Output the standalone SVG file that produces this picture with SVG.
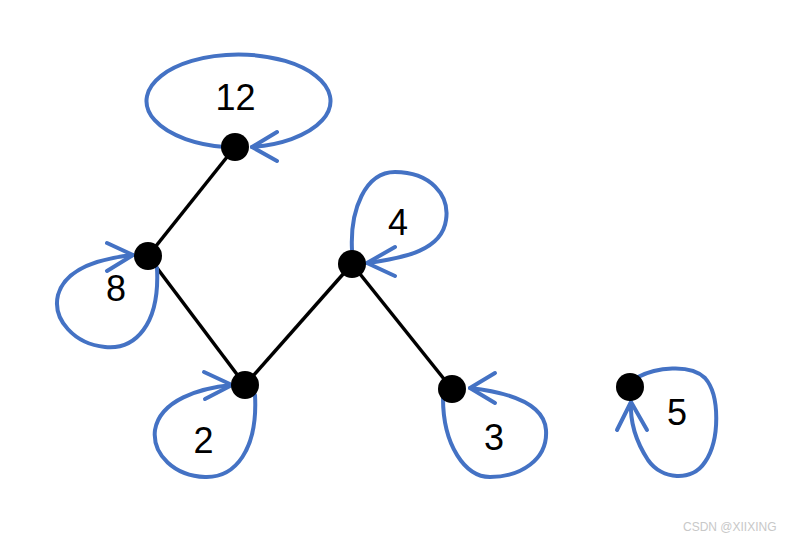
<svg xmlns="http://www.w3.org/2000/svg" width="788" height="540" viewBox="0 0 788 540">
<style>
.edge{stroke:#000;stroke-width:3.5;fill:none}
.loop{stroke:#4472C4;stroke-width:4;fill:none;stroke-linecap:round;stroke-linejoin:round}
.node{fill:#000}
.lbl{font-family:"Liberation Sans",Arial,sans-serif;font-size:36px;fill:#000;text-anchor:middle}
.wm{font-family:"Liberation Sans",Arial,sans-serif;font-size:12px;fill:#c8c8c8}
</style>
<rect width="788" height="540" fill="#fff"/>
<g id="connectors">
<line class="edge" x1="235" y1="147" x2="148" y2="256"/>
<line class="edge" x1="148" y1="256" x2="245" y2="385"/>
<line class="edge" x1="245" y1="385" x2="352" y2="264"/>
<line class="edge" x1="352" y1="264" x2="452" y2="389"/>
</g>
<g id="n12">
<path class="loop" d="M225 147 A92 46.5 0 1 1 252 147"/>
<path class="loop" d="M277 132 L252 147 L277 161"/>
<circle class="node" cx="235" cy="147" r="14"/>
<text class="lbl" x="235.5" y="110">12</text>
</g>
<g id="n8">
<path class="loop" d="M157 268 C160 325 135 350 105 347 C75 344 52 320 58 295 C66 266 105 258 133 255"/>
<path class="loop" d="M107 243 L133 255 L107 271"/>
<circle class="node" cx="148" cy="256" r="14"/>
<text class="lbl" x="116" y="301">8</text>
</g>
<g id="n2">
<path class="loop" d="M255 395 C258 450 235 478 205 477 C175 476 152 455 155 430 C160 400 200 388 232 385"/>
<path class="loop" d="M204 372 L232 385 L205 399"/>
<circle class="node" cx="245" cy="385" r="14"/>
<text class="lbl" x="203.5" y="453">2</text>
</g>
<g id="n4">
<path class="loop" d="M352 250 C350 210 365 172 395 172 C430 172 450 195 446 220 C442 250 405 258 367 263"/>
<path class="loop" d="M395 247 L367 263 L395 276"/>
<circle class="node" cx="352" cy="264" r="14"/>
<text class="lbl" x="398" y="235">4</text>
</g>
<g id="n3">
<path class="loop" d="M443 398 C443 445 465 477 490 477 C520 477 548 460 546 430 C544 402 505 392 470 388"/>
<path class="loop" d="M495 373 L470 388 L495 403"/>
<circle class="node" cx="452" cy="389" r="14"/>
<text class="lbl" x="494" y="450">3</text>
</g>
<g id="n5">
<path class="loop" d="M638 377 C655 368 690 363 705 378 C720 395 720 440 705 462 C692 482 662 480 648 460 C635 440 630 420 631 402"/>
<path class="loop" d="M617 430 L631 402 L647 430"/>
<circle class="node" cx="630" cy="387" r="14"/>
<text class="lbl" x="677" y="425">5</text>
</g>
<text class="wm" x="683" y="531">CSDN @XIIXING</text>
</svg>
